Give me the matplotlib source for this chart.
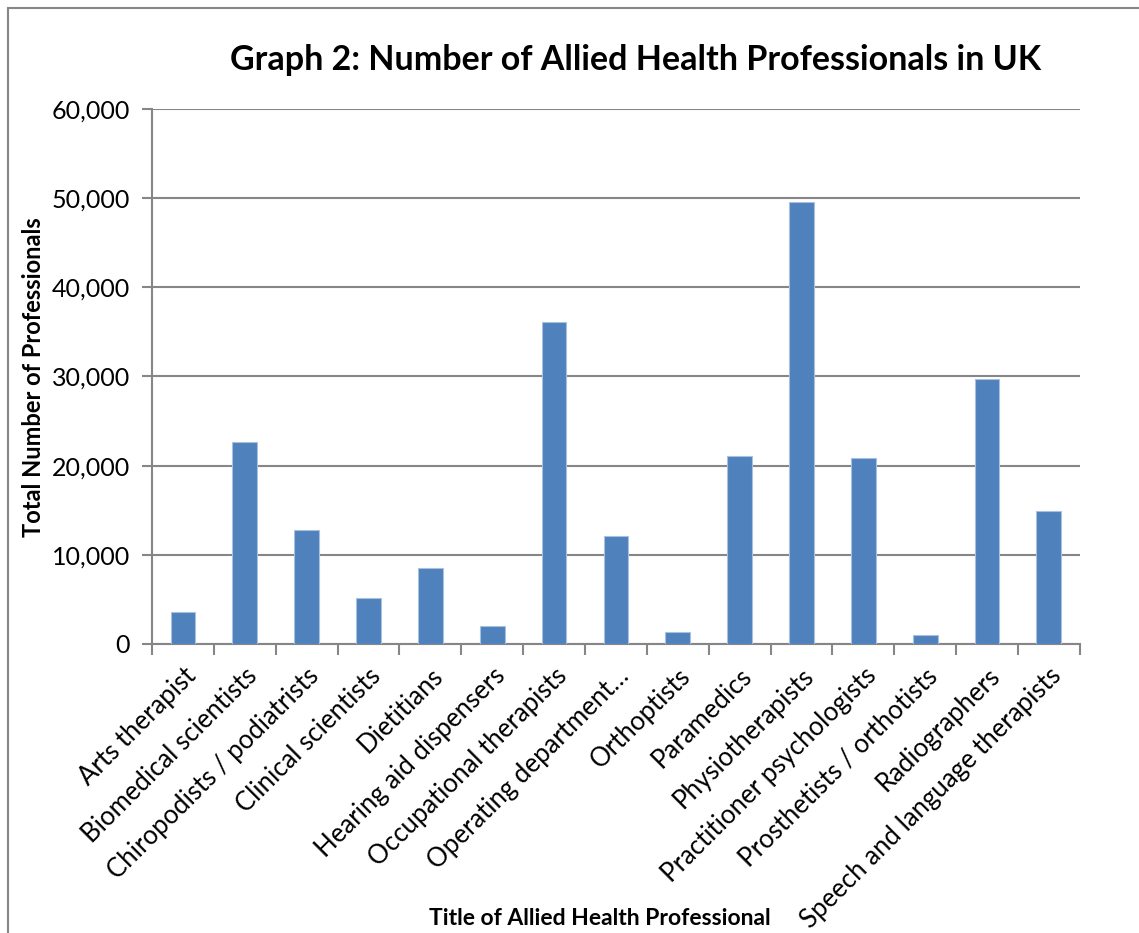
import numpy as np
import matplotlib.pyplot as plt
import matplotlib.transforms as mtransforms
from matplotlib.ticker import FuncFormatter, FixedLocator
from matplotlib.patches import Rectangle

# Data
professions = ['Arts therapist', 'Biomedical scientists', 'Chiropodists / podiatrists',
               'Clinical scientists', 'Dietitians', 'Hearing aid dispensers',
               'Occupational therapists', 'Operating department\u2026', 'Orthoptists',
               'Paramedics', 'Physiotherapists', 'Practitioner psychologists',
               'Prosthetists / orthotists', 'Radiographers', 'Speech and language therapists']
counts = [3600, 22600, 12800, 5200, 8500, 2050, 36100, 12100, 1300,
          21100, 49600, 20900, 970, 29700, 14900]

plt.rcParams['font.family'] = ['Lato', 'DejaVu Sans']

fig = plt.figure(figsize=(11.39, 9.33), dpi=100)
ax = fig.add_axes([0.1335, 0.3098, 0.948 - 0.1335, 0.8832 - 0.3098])

grid_col = '#868686'
x = np.arange(len(professions))
ax.bar(x, counts, width=0.4, color='#4F81BD', edgecolor='#a9c0de', linewidth=0.8, zorder=3)

ax.set_xlim(-0.5, len(professions) - 0.5)
ax.set_ylim(0, 60000)
ax.set_yticks(np.arange(0, 60001, 10000))
ax.yaxis.set_major_formatter(FuncFormatter(lambda v, p: f'{int(v):,}'))
ax.yaxis.grid(True, color=grid_col, linewidth=1.5, zorder=0)

ax.set_xticks(x)
ax.set_xticklabels(professions, rotation=45, ha='right', va='top', rotation_mode='anchor')
# nudge rotated labels so their ends sit under the bars
shift = mtransforms.ScaledTranslation(-0.28, -0.07, fig.dpi_scale_trans)
for lab in ax.get_xticklabels():
    lab.set_transform(lab.get_transform() + shift)
ax.xaxis.set_minor_locator(FixedLocator(np.arange(-0.5, len(professions), 1)))
ax.tick_params(axis='x', which='major', length=0, pad=14, labelsize=18.5)
ax.tick_params(axis='x', which='minor', length=8, width=1.5, color=grid_col)
ax.tick_params(axis='y', length=7, width=1.5, color=grid_col, labelsize=18, pad=9)

for s in ['top', 'right']:
    ax.spines[s].set_visible(False)
for s in ['left', 'bottom']:
    ax.spines[s].set_color(grid_col)
    ax.spines[s].set_linewidth(1.5)

fig.text(0.558, 0.936, 'Graph 2: Number of Allied Health Professionals in UK',
         ha='center', va='center', fontsize=24.5, fontweight='bold')
fig.text(0.029, 0.596, 'Total Number of Professionals', rotation=90,
         ha='center', va='center', fontsize=17, fontweight='bold')
fig.text(0.527, 0.016, 'Title of Allied Health Professional',
         ha='center', va='center', fontsize=16.5, fontweight='bold')

fig.patches.append(Rectangle((0.007, -0.01), 1.0, 1.001, transform=fig.transFigure,
                             fill=False, edgecolor=grid_col, linewidth=1.5))

fig.savefig('out.png', dpi=100)
